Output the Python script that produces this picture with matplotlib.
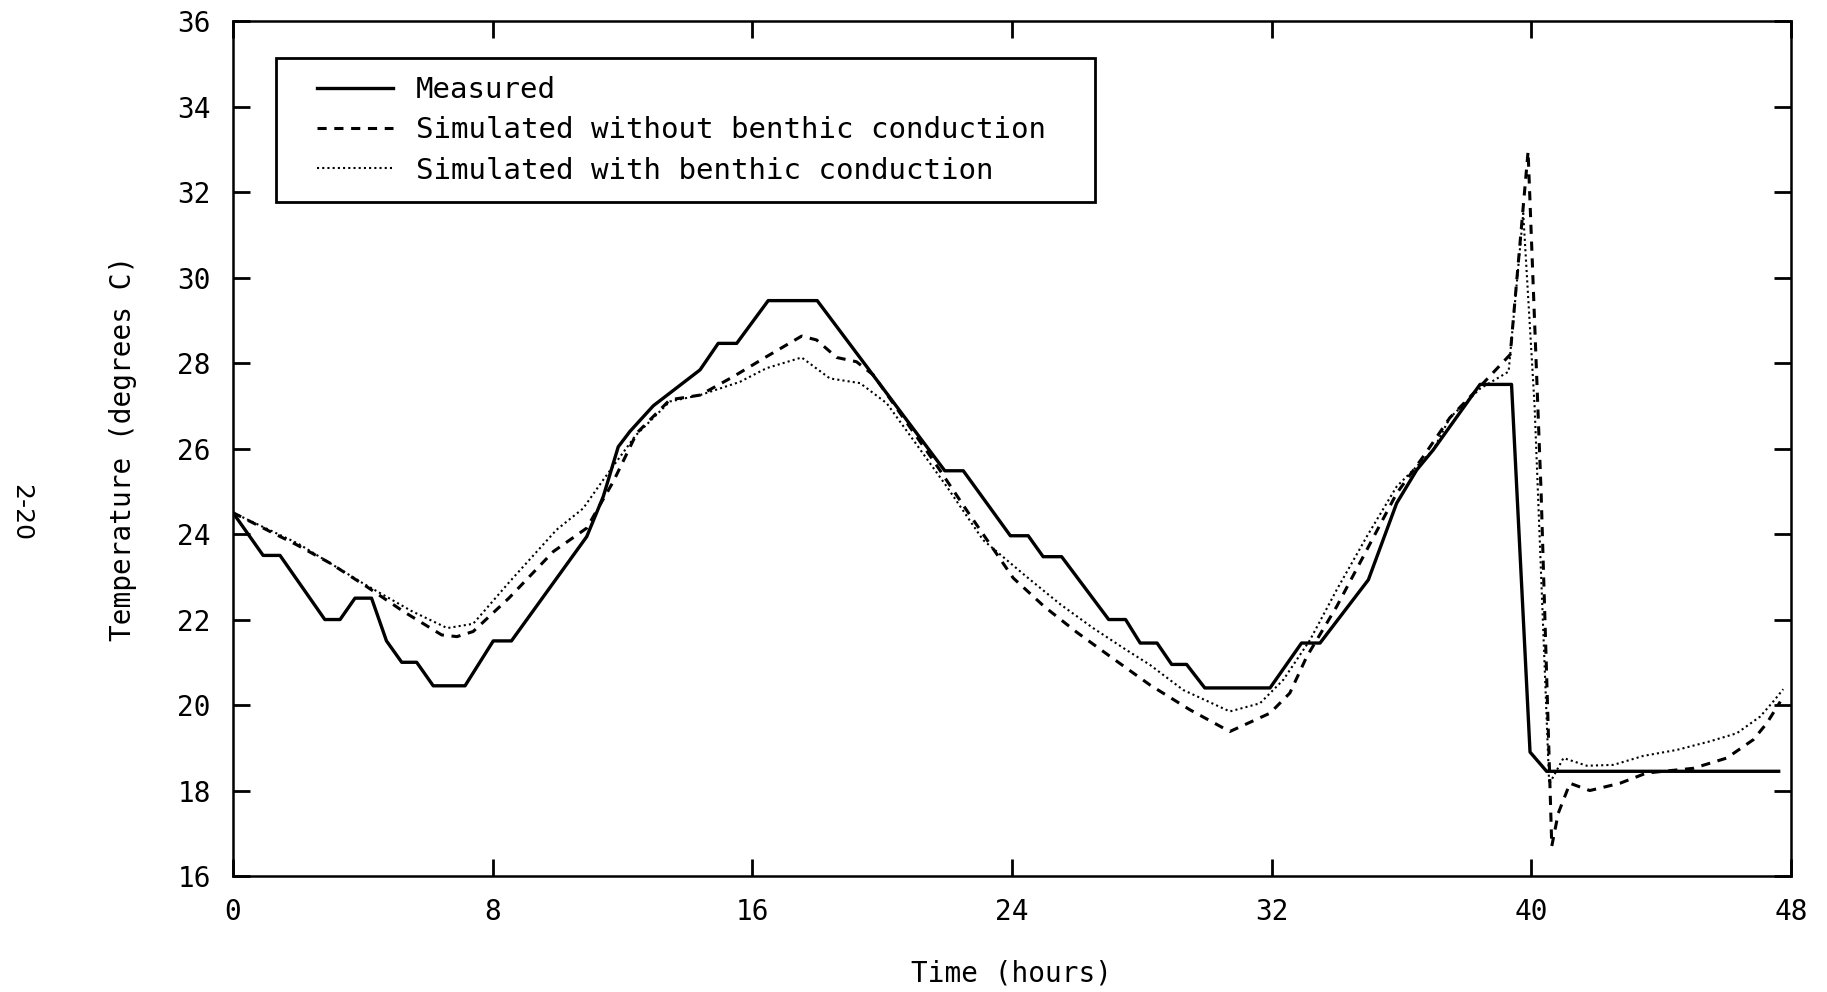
import matplotlib
matplotlib.use("Agg")
import matplotlib.pyplot as plt
from matplotlib.patches import Rectangle

# measured stream temperature (step-like record)
t_meas = [0, 0.93, 1.45, 2.83, 3.30, 3.76, 4.27, 4.73, 5.2, 5.66, 6.17, 7.15,
          8.02, 8.58, 10.9, 11.41, 11.87, 12.23, 12.95, 14.39, 14.95, 15.52,
          16.49, 18.0, 21.93, 22.5, 23.95, 24.5, 24.96, 25.53, 26.98, 27.5,
          27.95, 28.47, 28.92, 29.38, 29.94, 31.95, 32.92, 33.49, 34.98,
          35.85, 36.47, 36.98, 38.42, 39.39, 39.96, 40.47, 47.62]
T_meas = [24.5, 23.5, 23.5, 22.0, 22.0, 22.5, 22.5, 21.5, 21.0, 21.0, 20.45, 20.45,
          21.5, 21.5, 23.94, 24.88, 26.04, 26.4, 27.0, 27.84, 28.46, 28.46,
          29.46, 29.46, 25.48, 25.48, 23.96, 23.96, 23.47, 23.47, 22.0, 22.0,
          21.45, 21.45, 20.95, 20.95, 20.4, 20.4, 21.45, 21.45, 22.93,
          24.72, 25.5, 25.97, 27.5, 27.5, 18.9, 18.45, 18.45]

# simulated without benthic conduction
t_nob = [0, 1.14, 1.96, 2.99, 4.12, 5.25, 6.43, 6.9, 7.4, 8.5, 9.87, 10.9,
         11.72, 12.44, 13.46, 14.39, 15.41, 16.44, 17.52, 17.98, 18.6, 19.21,
         19.73, 20.55, 21.57, 22.6, 24.04, 25.0, 26.0, 27.0, 28.25, 29.48,
         30.71, 31.95, 32.56, 33.08, 34.0, 34.82, 35.85, 36.67, 37.49, 38.42,
         39.35, 39.9, 40.3, 40.63, 40.83, 41.19, 41.8, 42.73, 43.55, 44.99,
         46.02, 46.84, 47.26, 47.67]
T_nob = [24.5, 24.06, 23.75, 23.32, 22.77, 22.19, 21.64, 21.6, 21.72, 22.5, 23.59, 24.14,
         25.23, 26.36, 27.14, 27.25, 27.68, 28.15, 28.63, 28.54, 28.13, 28.03,
         27.72, 26.83, 25.73, 24.56, 22.97, 22.3, 21.7, 21.15, 20.47, 19.89,
         19.38, 19.81, 20.28, 21.13, 22.3, 23.47, 24.95, 25.81, 26.72, 27.45,
         28.2, 32.95, 25.0, 16.7, 17.47, 18.17, 18.0, 18.17, 18.41, 18.52,
         18.76, 19.19, 19.58, 20.08]

# simulated with benthic conduction
t_ben = [0, 2.0, 4.0, 5.5, 6.6, 7.4, 8.53, 9.97, 10.79, 11.41, 12.4, 13.46,
         14.39, 15.62, 16.44, 17.52, 18.39, 19.32, 20.14, 20.96, 21.99, 23.11,
         24.45, 25.5, 26.5, 27.5, 28.25, 29.28, 30.71, 31.64, 32.36, 33.18,
         34.0, 34.93, 35.85, 36.98, 37.49, 38.42, 39.3, 39.75, 40.1, 40.55,
         40.99, 41.71, 42.53, 43.45, 44.48, 45.5, 46.33, 47.05, 47.45, 47.76]
T_ben = [24.5, 23.78, 22.85, 22.2, 21.8, 21.9, 22.89, 24.1, 24.6, 25.27, 26.3, 27.1,
         27.25, 27.56, 27.88, 28.13, 27.64, 27.53, 27.06, 26.2, 25.11, 23.86,
         23.0, 22.35, 21.8, 21.3, 20.94, 20.35, 19.85, 20.04, 20.59, 21.52,
         22.69, 23.94, 25.11, 25.97, 26.72, 27.4, 27.8, 31.5, 27.0, 18.15,
         18.76, 18.58, 18.6, 18.81, 18.95, 19.15, 19.34, 19.73, 20.08, 20.37]

x_ticks = [0, 8, 16, 24, 32, 40, 48]
y_ticks = [16, 18, 20, 22, 24, 26, 28, 30, 32, 34, 36]

plt.rcParams['font.family'] = ['DejaVu Sans Mono']

fig = plt.figure(figsize=(18.27, 9.92), dpi=100)
ax = fig.add_axes([0.1275, 0.1169, 0.8528, 0.8619])

ax.plot(t_meas, T_meas, color='black', lw=2.4, label='Measured')
ax.plot(t_nob, T_nob, color='black', lw=2.2, ls=(0, (3, 2.5)),
        label='Simulated without benthic conduction')
ax.plot(t_ben, T_ben, color='black', lw=1.5, ls=(0, (1, 1.5)),
        label='Simulated with benthic conduction')

ax.set_xlim(0, 48)
ax.set_ylim(16, 36)
ax.set_xticks(x_ticks)
ax.set_yticks(y_ticks)
ax.tick_params(direction='in', length=12, width=2, labelsize=20,
               top=True, right=True, pad=16)
for s in ax.spines.values():
    s.set_linewidth(1.8)

ax.set_xlabel('Time (hours)', fontsize=20, labelpad=24)
ax.set_ylabel('Temperature (degrees C)', fontsize=20, labelpad=29)

# legend text without its own frame, box drawn separately
leg = ax.legend(loc='upper left', bbox_to_anchor=(0.0539, 0.9355),
                borderaxespad=0, borderpad=0, frameon=False, fontsize=21,
                handlelength=2.6, handletextpad=0.79, labelspacing=0.42)
ax.add_patch(Rectangle((0.0276, 0.7883), 0.5257, 0.1684, transform=ax.transAxes,
                       fill=False, edgecolor='black', lw=2, zorder=5))

fig.text(0.0115, 0.483, '2-20', rotation=-90, fontsize=18,
         ha='center', va='center', family='DejaVu Sans')

fig.savefig('out.png', dpi=100)
